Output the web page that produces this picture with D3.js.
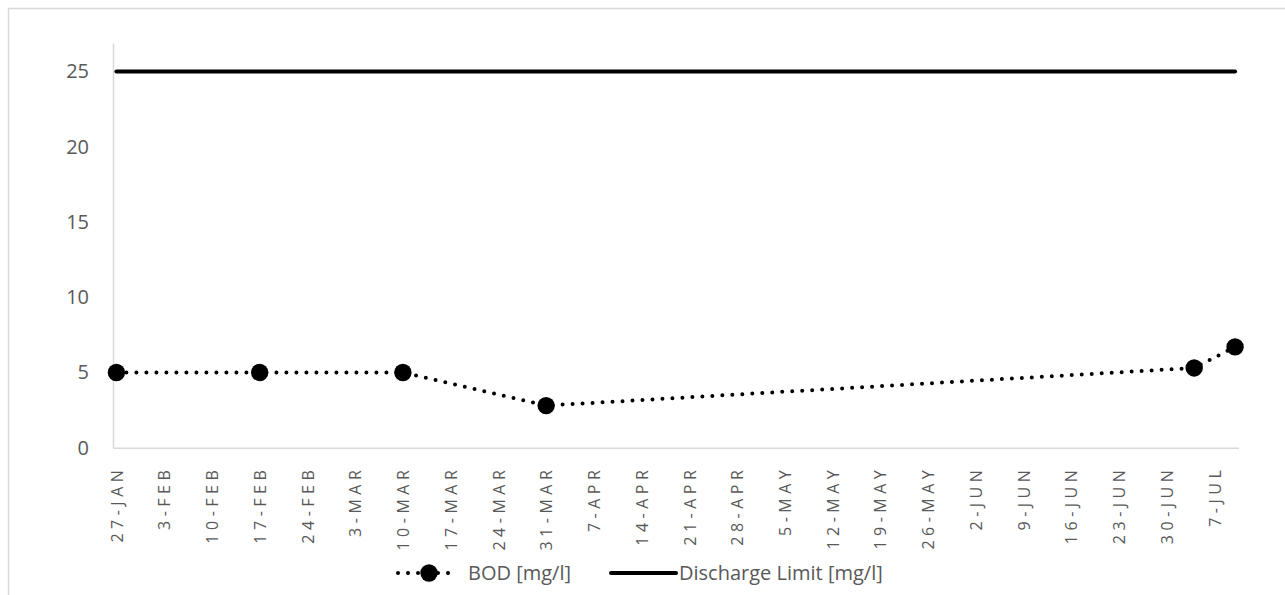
<!DOCTYPE html>
<html>
<head>
<meta charset="utf-8">
<script src="https://cdn.jsdelivr.net/npm/d3@7"></script>
<style>
  html, body { margin: 0; padding: 0; background: #fff; }
  svg { display: block; font-family: "Open Sans", Lato, sans-serif; }
</style>
</head>
<body>
<svg id="chart" width="1285" height="595"></svg>
<script>
// Sampling dates (2019) and measured BOD
const sampleDates = ["2019-01-27", "2019-02-17", "2019-03-10", "2019-03-31", "2019-07-04", "2019-07-10"];
const bodValues = [5, 5, 5, 2.8, 5.3, 6.7];
const limitValues = [25, 25, 25, 25, 25, 25];

// Weekly category labels on the date axis
const xTickDates = [
  "2019-01-27", "2019-02-03", "2019-02-10", "2019-02-17", "2019-02-24", "2019-03-03",
  "2019-03-10", "2019-03-17", "2019-03-24", "2019-03-31", "2019-04-07", "2019-04-14",
  "2019-04-21", "2019-04-28", "2019-05-05", "2019-05-12", "2019-05-19", "2019-05-26",
  "2019-06-02", "2019-06-09", "2019-06-16", "2019-06-23", "2019-06-30", "2019-07-07"
];
const yTicks = [0, 5, 10, 15, 20, 25];
const seriesNames = ["BOD [mg/l]", "Discharge Limit [mg/l]"];

const parse = d3.utcParse("%Y-%m-%d");
const fmt = d3.utcFormat("%-d-%b");
const dates = sampleDates.map(parse);

const svg = d3.select("#chart");
const textColor = "#595959";
const axisColor = "#d9d9d9";
const fontFamily = "'Open Sans', Lato, sans-serif";

// chart frame
svg.append("rect")
  .attr("x", 8.5).attr("y", 8.5)
  .attr("width", 1300).attr("height", 620)
  .attr("fill", "none").attr("stroke", axisColor).attr("stroke-width", 1.5);

const plotLeft = 113, plotRight = 1238.5, plotTop = 43, plotBottom = 447.7;
const half = 12 * 3600 * 1000;
const x = d3.scaleUtc()
  .domain([new Date(+dates[0] - half), new Date(+dates[dates.length - 1] + half)])
  .range([plotLeft, plotRight]);
const y = d3.scaleLinear().domain([0, 26.9]).range([plotBottom, plotTop]);

// y axis
const yAxis = svg.append("g")
  .attr("transform", `translate(${plotLeft},0)`)
  .call(d3.axisLeft(y).tickValues(yTicks).tickSize(0).tickPadding(24).tickFormat(d3.format("d")));
yAxis.select(".domain").attr("stroke", axisColor).attr("stroke-width", 1.5);
yAxis.selectAll("text").attr("fill", textColor).style("font-size", "20px")
  .style("font-family", fontFamily);

// x axis
const xAxis = svg.append("g")
  .attr("transform", `translate(0,${plotBottom})`)
  .call(d3.axisBottom(x).tickValues(xTickDates.map(parse)).tickSize(0)
    .tickFormat(d => fmt(d).toUpperCase()));
xAxis.select(".domain").attr("stroke", axisColor).attr("stroke-width", 1.5);
xAxis.selectAll("text")
  .attr("fill", textColor)
  .style("font-size", "16px")
  .style("letter-spacing", "4.5px")
  .style("font-family", fontFamily)
  .attr("text-anchor", "end")
  .attr("dy", "0.35em")
  .attr("transform", "translate(0,18) rotate(-90)")
  .attr("x", 0).attr("y", 0);

// discharge limit line
const limitLine = d3.line().x((d, i) => x(dates[i])).y(d => y(d));
svg.append("path")
  .datum(limitValues)
  .attr("d", limitLine)
  .attr("fill", "none").attr("stroke", "#000").attr("stroke-width", 4)
  .attr("stroke-linecap", "round");

// BOD dotted series with markers
const bodLine = d3.line().x((d, i) => x(dates[i])).y(d => y(d));
svg.append("path")
  .datum(bodValues)
  .attr("d", bodLine)
  .attr("fill", "none").attr("stroke", "#000").attr("stroke-width", 4)
  .attr("stroke-linecap", "round").attr("stroke-dasharray", "0 10");
svg.append("g").selectAll("circle")
  .data(bodValues)
  .join("circle")
  .attr("cx", (d, i) => x(dates[i]))
  .attr("cy", d => y(d))
  .attr("r", 8.7)
  .attr("fill", "#000");

// legend
const lg = svg.append("g").style("font-family", fontFamily);
const ly = 573;
lg.append("line").attr("x1", 398).attr("x2", 458).attr("y1", ly).attr("y2", ly)
  .attr("stroke", "#000").attr("stroke-width", 4).attr("stroke-linecap", "round")
  .attr("stroke-dasharray", "0 10");
lg.append("circle").attr("cx", 429).attr("cy", ly).attr("r", 8.7).attr("fill", "#000");
lg.append("text").attr("x", 468).attr("y", ly).attr("dy", "0.35em")
  .attr("fill", textColor).style("font-size", "20px").text(seriesNames[0]);
lg.append("line").attr("x1", 611).attr("x2", 676).attr("y1", ly).attr("y2", ly)
  .attr("stroke", "#000").attr("stroke-width", 4).attr("stroke-linecap", "round");
lg.append("text").attr("x", 679).attr("y", ly).attr("dy", "0.35em")
  .attr("fill", textColor).style("font-size", "20px").text(seriesNames[1]);
</script>
</body>
</html>
